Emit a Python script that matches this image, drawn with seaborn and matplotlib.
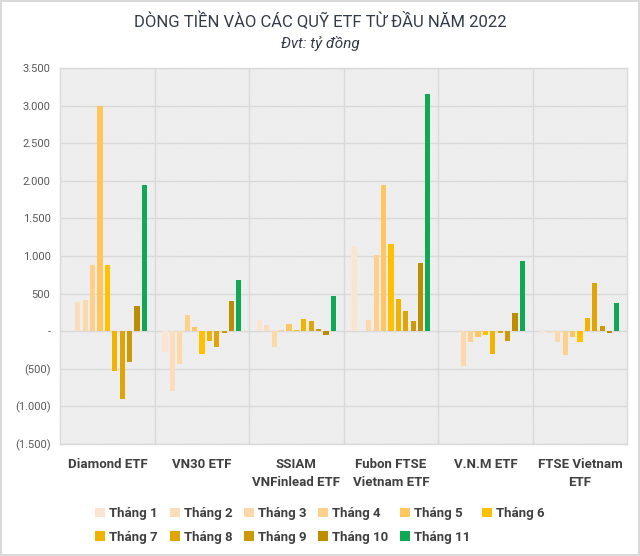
import numpy as np
import pandas as pd
import matplotlib
matplotlib.use('Agg')
import matplotlib.pyplot as plt
from matplotlib.ticker import FuncFormatter
from matplotlib.patches import Patch, Rectangle
import seaborn as sns

# Data (tỷ đồng)
funds = ['Diamond ETF', 'VN30 ETF', 'SSIAM\nVNFinlead ETF',
         'Fubon FTSE\nVietnam ETF', 'V.N.M ETF', 'FTSE Vietnam\nETF']
months = ['Tháng %d' % i for i in range(1, 12)]
diamond = [0, 390, 420, 880, 3000, 880, -530, -900, -410, 335, 1950]
vn30 = [-280, -800, -435, 210, 60, -300, -125, -210, -30, 405, 680]
ssiam = [147, 78, -209, 18, 98, 13, 169, 136, 28, -55, 467]
fubon = [1133, 0, 147, 1013, 1950, 1156, 431, 267, 133, 907, 3150]
vnm = [0, 0, -460, -145, -80, -53, -302, -22, -136, 240, 938]
ftse = [-10, -30, -140, -320, -78, -140, 182, 644, 71, -22, 369]
colors = ['#FCE4D2', '#FCDDBB', '#FDD8A8', '#FED08C', '#FFC660', '#FFC000',
          '#F0B300', '#DFA506', '#CC9A08', '#BD8D00', '#10A854']

rows = []
for f, vals in zip(funds, [diamond, vn30, ssiam, fubon, vnm, ftse]):
    for m, v in zip(months, vals):
        rows.append({'fund': f, 'month': m, 'value': v})
df = pd.DataFrame(rows)

sns.set_theme(style='white')
plt.rcParams['font.family'] = ['Roboto', 'DejaVu Sans']
plt.rcParams['hatch.linewidth'] = 0.5

fig = plt.figure(figsize=(6.4, 5.56), dpi=100)
fig.patch.set_edgecolor('#d9d9d9')
fig.patch.set_linewidth(1.5)
ax = fig.add_axes([0.094, 0.2014, 0.886, 0.6763])

# hatched plot area background
ax.add_patch(Rectangle((0, 0), 1, 1, transform=ax.transAxes, facecolor='white',
                       edgecolor='#e2e2e2', hatch='/' * 20, linewidth=0, zorder=0))

sns.barplot(data=df, x='fund', y='value', hue='month', order=funds,
            hue_order=months, palette=colors, saturation=1, width=0.86, gap=0.3,
            linewidth=0, legend=False, ax=ax, zorder=2)

ax.set_xlim(-0.5, 5.5)
ax.set_ylim(-1500, 3500)
ax.set_yticks(np.arange(-1500, 3501, 500))

def fmt(v, pos):
    if v == 0:
        return '-'
    s = '{:,.0f}'.format(abs(v)).replace(',', '.')
    return '(%s)' % s if v < 0 else s

ax.yaxis.set_major_formatter(FuncFormatter(fmt))
ax.set_xticks(np.arange(0.5, 5, 1), minor=True)
ax.grid(axis='y', which='major', color='#d9d9d9', linewidth=1)
ax.grid(axis='x', which='minor', color='#d9d9d9', linewidth=1)
ax.grid(axis='x', which='major', visible=False)
ax.set_axisbelow(True)
for s in ax.spines.values():
    s.set_color('#d9d9d9')
    s.set_linewidth(1)
ax.tick_params(axis='y', length=0, labelsize=8, labelcolor='#595959', pad=7)
ax.tick_params(axis='x', which='both', length=0, labelsize=9.5,
               labelcolor='#404040', pad=10)
for lab in ax.get_xticklabels():
    lab.set_fontweight('bold')
    lab.set_linespacing(1.5)
ax.set_xlabel('')
ax.set_ylabel('')

fig.text(0.5, 0.963, 'DÒNG TIỀN VÀO CÁC QUỸ ETF TỪ ĐẦU NĂM 2022',
         ha='center', va='center', fontsize=12, color='#333b4a')
fig.text(0.5, 0.922, 'Đvt: tỷ đồng', ha='center', va='center',
         fontsize=11, style='italic', color='#333b4a')

# legend filled row by row (matplotlib fills columns)
handles = [Patch(facecolor=c, edgecolor='none', linewidth=0, label=m)
           for c, m in zip(colors, months)]
order = [0, 6, 1, 7, 2, 8, 3, 9, 4, 10, 5]
leg = fig.legend([handles[i] for i in order], [months[i] for i in order],
                 loc='center', bbox_to_anchor=(0.5, 0.055), ncol=6, frameon=False,
                 handlelength=0.75, handleheight=0.75, handletextpad=0.3,
                 columnspacing=0.9, labelspacing=0.8,
                 prop={'weight': 'bold', 'size': 9.5})
for t in leg.get_texts():
    t.set_color('#404040')

fig.savefig('out.png', dpi=100, facecolor='white', edgecolor=fig.get_edgecolor())
